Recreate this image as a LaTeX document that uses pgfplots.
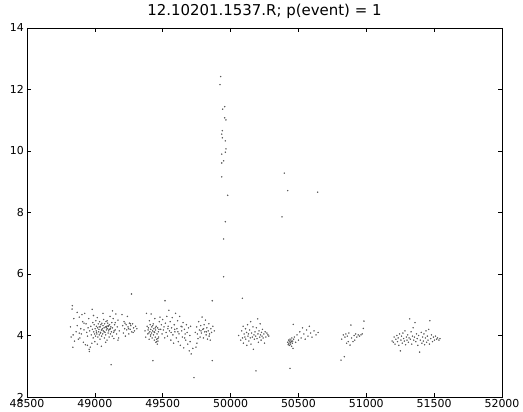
\documentclass[border=0pt]{standalone}
\usepackage{fontspec}
\setmainfont{DejaVu Sans}
\usepackage{pgfplots}
\pgfplotsset{compat=1.18}
\begin{document}
\begin{tikzpicture}
\useasboundingbox (-27bp,-15bp) rectangle (496bp,397bp);
\begin{axis}[
  at={(0,0)}, anchor=south west,
  scale only axis, width=475bp, height=369bp,
  xmin=48500, xmax=52000, ymin=2, ymax=14,
  xtick={48500,49000,...,52000}, ytick={2,4,...,14},
  scaled ticks=false,
  xticklabel style={/pgf/number format/fixed, /pgf/number format/precision=0, inner sep=2.5bp},
  yticklabel style={inner sep=3bp},
  tick align=inside, tick pos=both,
  major tick length=4bp,
  /pgf/number format/1000 sep={},
  /pgf/number format/assume math mode=true,
  tick label style={font=\fontsize{11}{13}\selectfont},
  title={12.10201.1537.R; p(event) = 1},
  title style={font=\fontsize{15}{17}\selectfont, inner sep=0pt, yshift=3.5bp},
  axis line style={black, line width=0.8pt},
  every tick/.style={black, line width=0.6pt},
]
\addplot[only marks, mark=*, mark size=0.5pt, draw=black!65, fill=black!65] coordinates {
% cluster 1
(48820,4.28)(48825,3.95)(48832,4.86)(48834,4.97)(48838,3.62)(48840,4.02)(48845,4.55)(48850,3.82)
(48862,4.12)(48870,4.32)(48878,3.88)(48885,4.60)(48890,3.92)(48896,4.22)(48900,4.05)(48905,4.68)
(48910,4.45)(48915,3.78)(48920,4.18)(48925,4.72)(48930,3.70)(48935,4.38)(48940,4.10)(48946,3.98)
(48950,4.25)(48955,4.55)(48958,3.55)(48962,4.15)(48966,3.62)(48970,4.30)(48974,4.02)(48978,3.75)
(48982,4.20)(48985,4.42)(48988,3.92)(48992,4.12)(48995,4.35)(48998,4.05)(49002,4.22)(49005,3.98)
(49008,4.48)(49010,4.15)(49012,4.30)(49015,4.05)(49018,4.58)(49020,4.25)(49022,3.95)(49025,4.38)
(49028,4.12)(49030,4.20)(49032,4.02)(49035,4.45)(49038,3.88)(49040,4.28)(49042,4.10)(49045,4.35)
(49048,4.18)(49050,3.98)(49052,4.40)(49055,4.22)(49058,4.05)(49060,4.32)(49062,4.15)(49065,4.52)
(49068,4.25)(49070,3.92)(49072,4.38)(49075,4.10)(49078,4.28)(49080,4.02)(49082,4.45)(49085,4.18)
(49088,4.30)(49090,3.85)(49092,4.22)(49095,4.40)(49098,4.08)(49100,4.30)(49102,4.15)(49105,3.95)
(49108,4.35)(49110,4.20)(49112,4.62)(49115,4.05)(49118,4.28)(49120,3.05)(49122,4.12)(49125,4.42)
(49128,3.98)(49130,4.25)(49135,4.55)(49138,4.10)(49140,3.90)(49145,4.35)(49150,4.18)(49155,4.70)
(49160,4.05)(49165,4.28)(49170,4.50)(49175,3.92)(49180,4.15)(49205,4.32)(49210,4.08)(49215,4.45)
(49220,4.22)(49225,3.98)(49230,4.35)(49235,4.18)(49240,4.62)(49245,4.28)(49250,4.05)(49255,4.40)
(49260,4.20)(49265,4.32)(49270,5.35)(49272,4.12)(49278,4.38)(49285,4.25)(49292,4.15)(49300,4.30)
(49310,4.22)(48945,3.68)(48960,3.48)(49018,3.72)(49048,3.65)(49000,3.80)(49080,3.78)(49170,3.85)
(48870,4.75)(48990,4.65)(49060,4.72)(49130,4.80)(49200,4.68)(48980,4.85)(49040,4.08)(49052,4.18)
(49068,4.12)(49085,4.25)(49098,4.32)(49115,4.22)(49032,4.28)(49012,4.10)(49105,4.20)(49142,4.15)
(49248,4.22)(49262,4.38)(49282,4.10)(49222,4.40)(49150,4.42)(49090,4.48)(48920,4.40)(48885,4.08)
% cluster 2
(49370,4.15)(49375,3.95)(49380,4.72)(49385,4.30)(49390,4.05)(49395,4.25)(49400,3.88)(49402,4.48)
(49405,4.12)(49408,4.35)(49410,3.98)(49412,4.20)(49415,4.70)(49418,4.08)(49420,4.28)(49422,3.92)
(49425,4.15)(49428,3.18)(49430,4.38)(49432,4.02)(49435,4.22)(49438,3.85)(49440,4.10)(49442,4.55)
(49445,3.95)(49448,4.18)(49450,3.78)(49452,4.30)(49455,3.88)(49458,4.05)(49460,3.72)(49462,4.25)
(49465,3.82)(49468,4.12)(49470,3.95)(49475,4.45)(49480,4.60)(49485,4.20)(49490,4.35)(49495,4.05)
(49500,4.52)(49505,4.18)(49510,4.28)(49515,3.92)(49517,5.13)(49520,4.40)(49525,4.10)(49530,4.62)
(49535,3.98)(49540,4.30)(49545,4.82)(49550,4.15)(49555,4.45)(49560,3.85)(49565,4.25)(49570,4.58)
(49575,4.02)(49580,3.75)(49585,4.35)(49590,4.12)(49595,4.72)(49600,3.92)(49605,4.22)(49610,4.48)
(49615,3.80)(49620,4.05)(49625,4.62)(49630,3.68)(49635,4.30)(49640,4.15)(49645,3.95)(49650,4.42)
(49655,3.60)(49660,4.20)(49665,4.05)(49670,3.85)(49675,4.35)(49680,4.10)(49685,3.72)(49690,4.25)
(49695,3.50)(49700,4.00)(49705,4.30)(49710,3.40)(49730,2.63)(49740,4.10)(49745,3.62)(49750,4.28)
(49755,4.05)(49760,3.90)(49765,4.45)(49770,4.18)(49775,3.95)(49780,4.32)(49785,4.08)(49790,4.60)
(49795,4.20)(49800,3.92)(49805,4.35)(49810,4.12)(49815,4.50)(49820,4.02)(49825,4.25)(49830,3.88)
(49835,4.15)(49840,4.38)(49845,4.05)(49850,3.85)(49855,4.22)(49860,4.10)(49865,5.13)(49865,3.18)
(49870,4.30)(49880,4.15)(49392,4.18)(49398,4.08)(49412,4.02)(49426,4.32)(49436,4.12)(49446,4.25)
(49456,3.80)(49464,3.90)(49472,4.20)(49538,4.22)(49562,4.10)(49588,4.20)(49612,4.12)(49642,4.28)
(49662,3.92)(49782,4.15)(49802,4.22)(49822,4.12)(49842,3.98)(49702,3.80)(49722,3.58)(49752,3.75)
% cluster 3
(50060,4.00)(50075,3.85)(50082,4.15)(50088,3.92)(50092,4.30)(50095,3.75)(50100,4.05)(50105,3.95)
(50110,4.22)(50112,3.88)(50118,4.10)(50120,3.68)(50125,4.35)(50128,3.98)(50132,4.05)(50135,3.82)
(50140,4.18)(50145,3.92)(50148,4.45)(50150,3.72)(50155,4.08)(50160,3.95)(50165,4.28)(50168,3.55)
(50172,4.02)(50175,3.88)(50180,4.12)(50185,3.98)(50187,2.85)(50190,4.25)(50195,3.90)(50200,4.54)
(50202,4.05)(50205,3.78)(50210,4.15)(50215,3.95)(50218,4.38)(50220,4.02)(50225,3.85)(50228,4.10)
(50232,3.98)(50235,4.20)(50240,3.92)(50245,4.05)(50250,3.75)(50255,4.12)(50260,3.95)(50268,4.08)
(50275,4.02)(50282,3.98)
% cluster 4
(50420,3.78)(50425,3.70)(50428,3.85)(50430,3.75)(50432,3.82)(50435,3.68)(50438,2.93)(50438,3.88)
(50440,3.78)(50442,3.72)(50445,3.85)(50448,3.80)(50450,3.65)(50452,3.92)(50455,3.75)(50458,3.82)
(50460,3.58)(50462,4.36)(50465,3.88)(50470,3.95)(50480,3.78)(50490,4.02)(50500,3.85)(50510,4.12)
(50520,3.92)(50530,4.25)(50540,4.05)(50550,3.88)(50560,4.18)(50570,3.98)(50580,4.30)(50590,4.08)
(50600,3.95)(50615,4.15)(50630,4.02)(50645,4.10)
% cluster 5
(50814,3.20)(50819,3.88)(50831,4.02)(50838,3.31)(50843,3.95)(50850,4.05)(50855,3.75)(50860,3.98)
(50867,3.80)(50872,4.08)(50880,3.69)(50887,4.34)(50892,3.92)(50902,3.80)(50910,4.00)(50915,3.85)
(50922,4.05)(50930,3.95)(50940,4.02)(50950,3.98)(50961,4.02)(50970,4.05)(50978,4.23)(50983,4.47)
% cluster 6
(51190,3.82)(51200,3.78)(51205,3.95)(51212,3.72)(51218,3.88)(51225,4.00)(51230,3.80)(51235,3.92)
(51240,3.68)(51245,4.05)(51251,3.50)(51255,3.85)(51260,3.98)(51265,3.75)(51270,4.08)(51275,3.90)
(51280,3.82)(51285,4.15)(51290,3.70)(51295,3.95)(51300,3.85)(51305,4.02)(51310,3.78)(51315,3.92)
(51320,4.54)(51325,3.88)(51330,4.12)(51335,3.72)(51340,3.98)(51345,4.25)(51350,3.85)(51355,3.95)
(51359,4.42)(51365,3.80)(51370,4.05)(51375,3.90)(51380,3.68)(51385,4.00)(51393,3.46)(51398,3.85)
(51405,4.10)(51410,3.75)(51415,3.95)(51420,3.82)(51425,4.05)(51430,3.70)(51435,3.92)(51440,4.15)
(51445,3.78)(51450,3.98)(51455,3.85)(51460,4.20)(51465,3.72)(51469,4.48)(51475,3.90)(51480,4.02)
(51488,3.80)(51495,3.95)(51502,3.85)(51510,3.98)(51518,3.88)(51525,3.92)(51535,3.85)(51543,3.90)
% spike and isolated points
(49927,12.42)(49922,12.16)(49957,11.44)(49942,11.36)(49957,11.08)(49966,11.01)(49939,10.66)
(49935,10.55)(49939,10.43)(49961,10.33)(49966,10.07)(49961,9.96)(49935,9.90)(49949,9.68)
(49935,9.61)(50396,9.28)(49935,9.16)(50421,8.71)(50642,8.66)(49979,8.56)(50379,7.86)
(49961,7.70)(49949,7.14)(49949,5.91)(50087,5.21)
};
\end{axis}
\end{tikzpicture}
\end{document}
